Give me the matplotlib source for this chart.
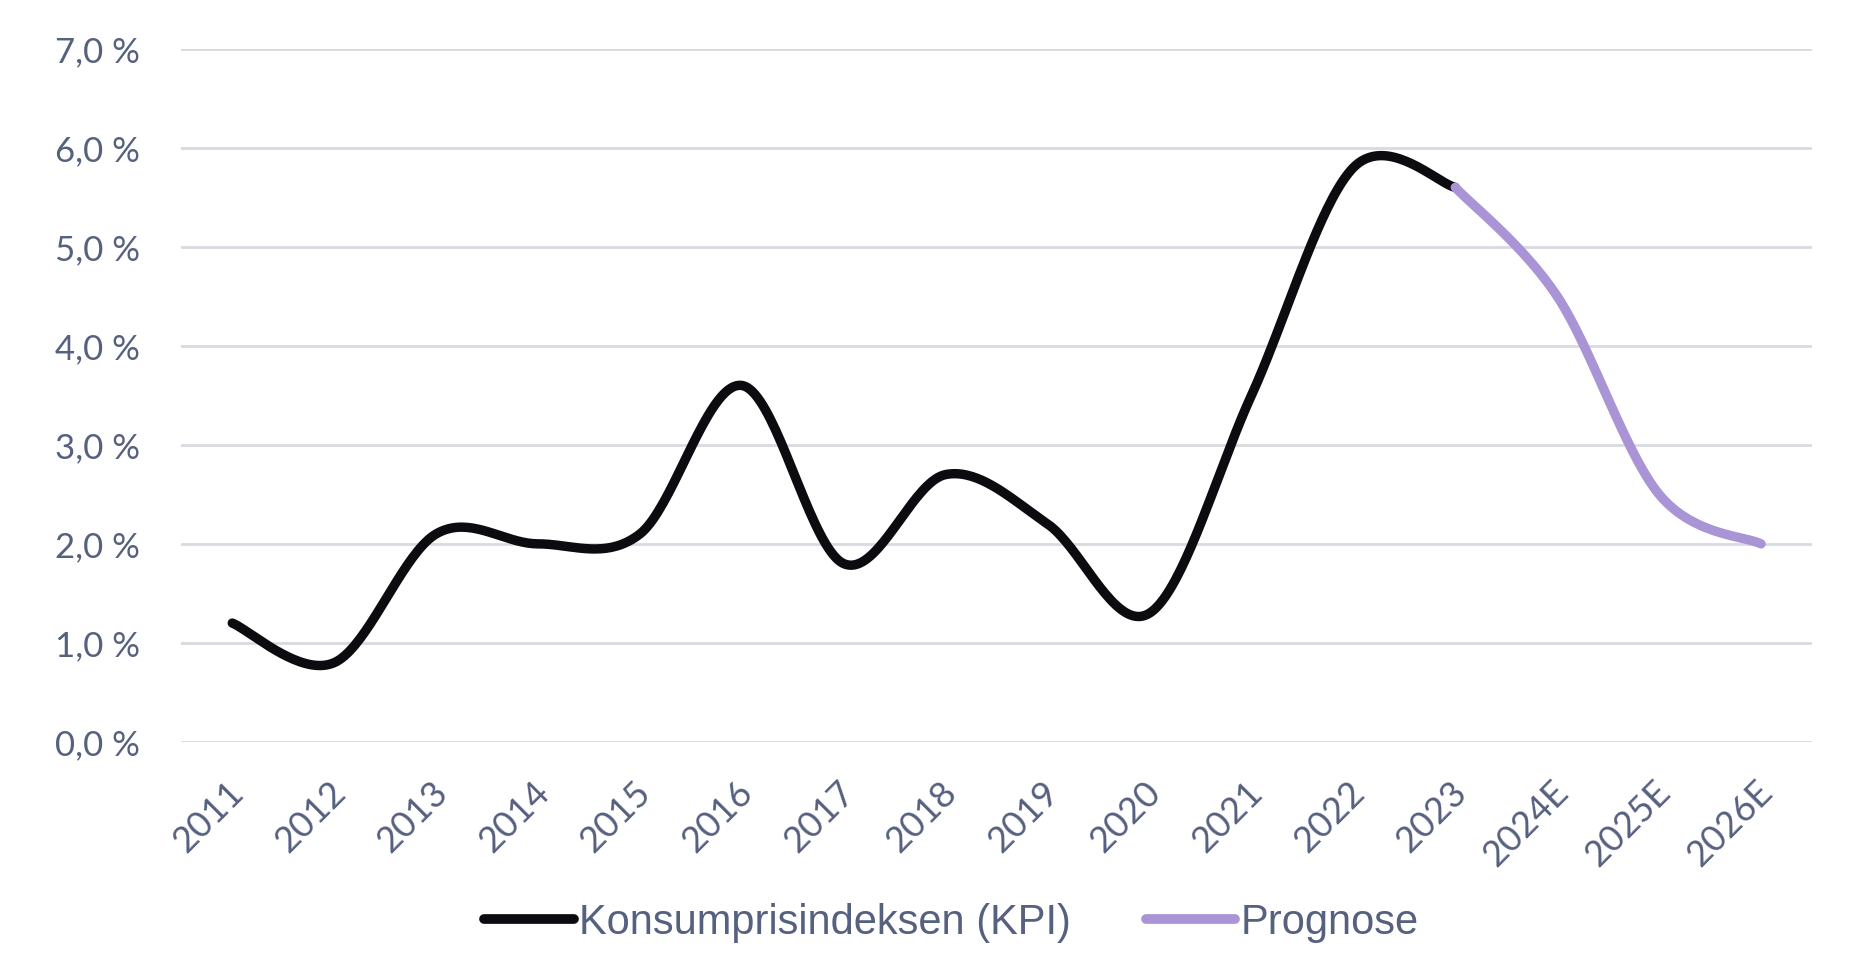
import numpy as np
import matplotlib
matplotlib.use("Agg")
import matplotlib.pyplot as plt
from matplotlib import font_manager, transforms

years = ["2011", "2012", "2013", "2014", "2015", "2016", "2017", "2018",
         "2019", "2020", "2021", "2022", "2023", "2024E", "2025E", "2026E"]
kpi = [1.2, 0.8, 2.1, 2.0, 2.1, 3.6, 1.8, 2.7, 2.2, 1.3, 3.5, 5.8, 5.6]
prognose = [5.6, 4.5, 2.5, 2.0]
yticks = [0, 1, 2, 3, 4, 5, 6, 7]

names = {f.name for f in font_manager.fontManager.ttflist}
tick_font = "Lato" if "Lato" in names else "DejaVu Sans"
leg_font = "Liberation Sans Narrow" if "Liberation Sans Narrow" in names else "Liberation Sans"


def catmull_rom(xs, ys, n=40):
    xs = np.asarray(xs, float)
    ys = np.asarray(ys, float)
    P = np.column_stack([xs, ys])
    P = np.vstack([P[0], P, P[-1]])
    out = []
    for i in range(1, len(P) - 2):
        p0, p1, p2, p3 = P[i - 1], P[i], P[i + 1], P[i + 2]
        c1 = p1 + (p2 - p0) / 6.0
        c2 = p2 - (p3 - p1) / 6.0
        t = np.linspace(0, 1, n)[:, None]
        seg = ((1 - t) ** 3) * p1 + 3 * ((1 - t) ** 2) * t * c1 + 3 * (1 - t) * t ** 2 * c2 + t ** 3 * p2
        out.append(seg if i == 1 else seg[1:])
    arr = np.vstack(out)
    return arr[:, 0], arr[:, 1]


fig = plt.figure(figsize=(18.69, 9.66), dpi=100)
ax = fig.add_axes([0.097, 0.232, 0.8725, 0.7175])

x_k = np.arange(len(kpi))
x_p = np.arange(len(kpi) - 1, len(kpi) - 1 + len(prognose))

sx, sy = catmull_rom(x_k, kpi)
l1, = ax.plot(sx, sy, color="#0c0c10", lw=6.8, solid_capstyle="round",
              label="Konsumprisindeksen (KPI)", zorder=3)
px, py = catmull_rom(x_p, prognose)
l2, = ax.plot(px, py, color="#a994d6", lw=6.8, solid_capstyle="round",
              label="Prognose", zorder=3)

ax.set_xlim(-0.5, len(years) - 0.5)
ax.set_ylim(0, 7)
ax.set_yticks(yticks)
ax.set_yticklabels([f"{v:.1f}".replace(".", ",") + " %" for v in yticks],
                   fontsize=25, color="#56607f", family=tick_font)
ax.set_xticks(np.arange(len(years)))
ax.set_xticklabels(years, rotation=45, ha="right", va="top", rotation_mode="anchor",
                   fontsize=26, color="#56607f", family=tick_font)
ax.tick_params(axis="y", length=0, pad=30)
ax.tick_params(axis="x", length=0, pad=24)
for lbl in ax.get_xticklabels():
    lbl.set_transform(lbl.get_transform() + transforms.ScaledTranslation(-0.06, 0, fig.dpi_scale_trans))

ax.grid(axis="y", color="#d9d9e1", lw=2)
ax.set_axisbelow(True)
for s in ax.spines.values():
    s.set_visible(False)

leg = fig.legend(handles=[l1, l2], loc="center", bbox_to_anchor=(0.509, 0.045), ncol=2,
                 frameon=False, handlelength=2.15, handletextpad=0.12, columnspacing=1.8,
                 prop={"family": leg_font, "size": 30}, labelcolor="#56607f")
for h in leg.legend_handles:
    h.set_linewidth(7)
    h.set_solid_capstyle("round")

fig.savefig("out.png", dpi=100, facecolor="white")
